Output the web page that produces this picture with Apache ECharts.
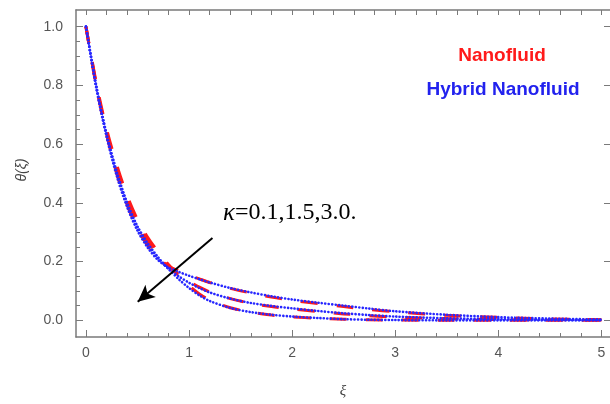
<!DOCTYPE html>
<html>
<head>
<meta charset="utf-8">
<script src="https://cdn.jsdelivr.net/npm/echarts@6/dist/echarts.min.js"></script>
<style>html,body{margin:0;padding:0;background:#fff}#c{width:610px;height:404px}</style>
</head>
<body>
<div id="c"></div>
<script>
// ---- data ----
var xi = [0,0.1,0.2,0.3,0.4,0.5,0.6,0.7,0.8,0.9,1.0,1.1,1.2,1.4,1.6,1.8,2.0,2.25,2.5,2.75,3.0,3.5,4.0,4.5,5.0];
// Hybrid nanofluid (blue dotted)
var hybridK1 = [1,0.80,0.635,0.505,0.40,0.32,0.262,0.215,0.175,0.14,0.11,0.085,0.066,0.042,0.028,0.019,0.013,0.008,0.004,0.002,0.001,0,0,0,0];
var hybridK2 = [1,0.795,0.63,0.50,0.395,0.315,0.255,0.21,0.176,0.15,0.128,0.11,0.095,0.074,0.059,0.049,0.041,0.032,0.024,0.018,0.013,0.007,0.004,0.002,0.001];
var hybridK3 = [1,0.79,0.625,0.49,0.385,0.305,0.247,0.205,0.18,0.165,0.152,0.14,0.129,0.11,0.095,0.082,0.071,0.06,0.05,0.04,0.031,0.019,0.011,0.006,0.003];
// Nanofluid (red dashed)
var nanoK1 = [1,0.808,0.652,0.528,0.424,0.343,0.282,0.233,0.19,0.152,0.118,0.09,0.069,0.043,0.028,0.018,0.012,0.007,0.004,0.002,0.001,0,0,0,0];
var nanoK2 = [1,0.802,0.642,0.515,0.41,0.329,0.268,0.221,0.184,0.157,0.133,0.113,0.097,0.074,0.058,0.047,0.039,0.03,0.022,0.016,0.011,0.006,0.003,0.002,0.001];
var nanoK3 = [1,0.797,0.633,0.498,0.393,0.313,0.254,0.21,0.184,0.168,0.154,0.141,0.129,0.109,0.093,0.079,0.068,0.057,0.047,0.037,0.029,0.017,0.01,0.005,0.002];
var xTicks = [0,1,2,3,4,5];
var yTicks = [0,0.2,0.4,0.6,0.8,1.0];
var arrowStart = [1.227,0.28];
var arrowEnd = [0.502,0.063];
var annotation = 'κ=0.1,1.5,3.0.';
var legendNames = ['Nanofluid','Hybrid Nanofluid'];

// ---- build ----
function pairs(ys){ return xi.map(function(x,i){ return [x, ys[i]]; }); }
function minor(step, lo, hi, skip){
  var a=[]; for (var v=lo; v<=hi+1e-9; v+=step){ var r=Math.round(v*1000)/1000; if(!skip || Math.abs(r/skip-Math.round(r/skip))>1e-6) a.push(r);} return a;
}
var XMIN=-0.0966, XMAX=5.083, YMIN=-0.0567, YMAX=1.0567;
var axisColor='#7a7a7a';
var lblStyle={color:'#555',fontSize:14,fontFamily:'Liberation Sans'};

var chart = echarts.init(document.getElementById('c'), null, {renderer:'canvas'});
var redStyle={color:'#ff1a1a',width:3,type:[17,19]};
var blueStyle={color:'#2727ff',width:2.6,type:[0.1,3.3],cap:'round'};
function s(name,data,style,z){ return {type:'line',name:name,data:pairs(data),showSymbol:false,symbol:'none',smooth:0.3,lineStyle:style,z:z,silent:true}; }

chart.setOption({
  animation:false,
  grid:{left:76,top:10,width:536,height:334,show:false},
  xAxis:[
    {type:'value',min:XMIN,max:XMAX,position:'bottom',
     axisLine:{show:true,onZero:false,lineStyle:{color:axisColor,width:1.5}},
     axisTick:{show:true,inside:true,length:7,customValues:xTicks,lineStyle:{color:axisColor}},
     axisLabel:{show:true,customValues:xTicks,margin:9,formatter:function(v){return String(v);},...lblStyle},
     splitLine:{show:false},
     name:'ξ',nameLocation:'middle',nameGap:47,nameTextStyle:{color:'#444',fontSize:15,fontStyle:'italic',fontFamily:'Liberation Serif'}},
    {type:'value',min:XMIN,max:XMAX,position:'bottom',
     axisLine:{show:false,onZero:false},
     axisTick:{show:true,inside:true,length:4,customValues:minor(0.2,0,5,1),lineStyle:{color:axisColor}},
     axisLabel:{show:false},splitLine:{show:false}},
    {type:'value',min:XMIN,max:XMAX,position:'top',
     axisLine:{show:true,onZero:false,lineStyle:{color:axisColor,width:1.5}},
     axisTick:{show:true,inside:true,length:5,customValues:minor(0.2,0,5),lineStyle:{color:axisColor}},
     axisLabel:{show:false},splitLine:{show:false}}
  ],
  yAxis:[
    {type:'value',min:YMIN,max:YMAX,position:'left',
     axisLine:{show:true,onZero:false,lineStyle:{color:axisColor,width:1.5}},
     axisTick:{show:true,inside:true,length:7,customValues:yTicks,lineStyle:{color:axisColor}},
     axisLabel:{show:true,customValues:yTicks,margin:13,formatter:function(v){return v.toFixed(1);},...lblStyle},
     splitLine:{show:false}},
    {type:'value',min:YMIN,max:YMAX,position:'left',
     axisLine:{show:false,onZero:false},
     axisTick:{show:true,inside:true,length:4,customValues:minor(0.05,0,1,0.2),lineStyle:{color:axisColor}},
     axisLabel:{show:false},splitLine:{show:false}},
    {type:'value',min:YMIN,max:YMAX,position:'right',
     axisLine:{show:false,onZero:false},
     axisTick:{show:true,inside:true,length:6,customValues:yTicks,lineStyle:{color:axisColor}},
     axisLabel:{show:false},splitLine:{show:false}}
  ],
  series:[
    s(legendNames[0]+' κ=0.1',nanoK1,redStyle,2),
    s(legendNames[0]+' κ=1.5',nanoK2,redStyle,2),
    s(legendNames[0]+' κ=3.0',nanoK3,redStyle,2),
    s(legendNames[1]+' κ=0.1',hybridK1,blueStyle,3),
    s(legendNames[1]+' κ=1.5',hybridK2,blueStyle,3),
    s(legendNames[1]+' κ=3.0',hybridK3,blueStyle,3),
    {type:'line',data:[],z:5,silent:true,
     markLine:{silent:true,symbol:['none','arrow'],symbolSize:[12,17],animation:false,
       label:{show:false},lineStyle:{color:'#000',width:2,type:'solid'},
       data:[[{coord:arrowStart},{coord:arrowEnd}]]}}
  ],
  graphic:[
    {type:'text',x:223,y:213,style:{text:'{k|κ}{n|'+annotation.slice(1)+'}',verticalAlign:'middle',
      rich:{k:{fontSize:25,fontStyle:'italic',fontFamily:'Liberation Serif',fill:'#000'},
            n:{fontSize:24,fontFamily:'Liberation Serif',fill:'#000'}}}},
    {type:'text',x:502,y:56,style:{text:legendNames[0],align:'center',verticalAlign:'middle',fontSize:19,fontWeight:'bold',fontFamily:'Liberation Sans',fill:'#ff1a1a'}},
    {type:'text',x:503,y:90,style:{text:legendNames[1],align:'center',verticalAlign:'middle',fontSize:19,fontWeight:'bold',fontFamily:'Liberation Sans',fill:'#2222ee'}},
    {type:'text',x:22,y:170,rotation:Math.PI/2,style:{text:'θ(ξ)',align:'center',verticalAlign:'middle',fontSize:14,fontStyle:'italic',fontFamily:'Liberation Sans',fill:'#444'}}
  ]
});
</script>
</body>
</html>
